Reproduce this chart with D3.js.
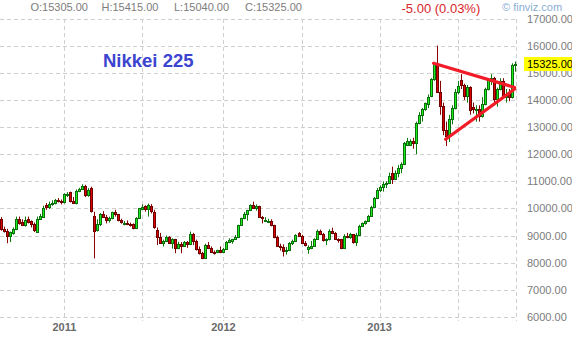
<!DOCTYPE html>
<html><head><meta charset="utf-8">
<script src="https://cdn.jsdelivr.net/npm/d3@7/dist/d3.min.js"></script>
<style>html,body{margin:0;padding:0;background:#fff;}svg{display:block;font-family:"Liberation Sans",Arial,sans-serif;}</style>
</head><body>
<svg id="c" width="572" height="339"></svg>
<script>
// ---- data (weekly Nikkei 225 futures, weeks ending Friday) ----
const firstWeek = "2010-08-13";
const opens = [9620,9250,9170,8990,9110,9239,9626,9500,9404,9620,9520,9440,9150,9625,9700,10120,10039,10178,10212,10310,10290,
10229,10480,10590,10280,10200,10640,10720,10840,10480,10750,9740,9200,9420,9800,9700,9560,9640,9860,9780,9580,9420,9480,9430,9420,9290,9640,9990,10080,9980,10100,
9880,9200,8960,8720,8800,8950,8740,8860,8560,8700,8600,8750,8680,9050,8800,8510,8370,8160,8640,8540,8400,8400,
8460,8390,8500,8766,8800,8860,8950,9380,9650,9780,9930,10130,10010,10080,9690,9560,9500,9540,9380,8950,8610,8590,8440,8460,8720,8800,9080,9000,8720,8520,8560,8600,8890,9160,9070,8840,8870,9160,9110,8870,8860,8530,9000,8930,9050,8760,9040,9370,9450,9530,9740,10050,
10400,10690,10800,10910,10930,11320,11100,11300,11500,11650,12340,12350,12500,12420,13150,13450,13650,13850,14150,14760,15360,14300,13780,12900,12700,13300,13700,14300,14750,14550,14130,14470,13750,13650,13660,13390,13860,14400,14700,14800,14020,14400,14700,14090,14300,14090,15305];
const highs = [9680,9330,9250,9150,9300,9700,9700,9600,9700,9700,9560,9480,9700,9800,10100,10200,10250,10300,10350,10380,10330,
10560,10600,10620,10420,10700,10760,10890,10870,10750,10800,9880,9600,9830,9900,9760,9700,9880,9950,9800,9620,9540,9560,9480,9450,9680,10020,10150,10120,10180,10160,
9950,9300,9100,8850,9000,8980,8900,8880,8770,8760,8800,8800,9150,9100,8850,8600,8400,8700,8760,8600,8450,8480,
8600,8550,8800,8900,8880,9020,9400,9660,9870,9950,10150,10250,10150,10100,9720,9680,9620,9600,9400,9000,8700,8680,8580,8760,8850,9050,9130,9030,8800,8640,8800,8900,9220,9220,9100,8900,9230,9290,9130,8900,8880,9050,9100,9100,9060,9100,9400,9480,9560,9760,10100,10420,
10750,10850,11000,11000,11320,11540,11400,11600,11700,12450,12600,12550,12600,13200,13550,13700,13900,14200,14800,15400,16000,14700,13900,13200,13450,13800,14400,14700,14950,14600,14550,14500,13900,13800,13800,14100,14450,14800,14950,14850,14450,14800,14800,14400,14400,15350,15415];
const lows = [9180,9110,8720,8760,9030,9200,9400,9350,9330,9450,9300,9130,9110,9580,9650,9950,9980,10100,10150,10220,10150,
10180,10420,10220,10180,10150,10600,10680,10420,10430,9850,8160,9150,9350,9650,9450,9480,9600,9700,9520,9440,9380,9380,9330,9230,9270,9620,9960,9880,9700,9820,
9250,8650,8700,8600,8780,8700,8520,8350,8500,8350,8580,8550,8650,8650,8450,8300,8130,8140,8500,8360,8300,8350,
8350,8370,8480,8720,8700,8840,8920,9370,9600,9550,9900,9980,9920,9650,9450,9500,9460,9340,8900,8580,8450,8230,8300,8430,8650,8760,8950,8700,8600,8330,8500,8580,8860,9020,8780,8650,8820,9050,8850,8740,8500,8500,8900,8880,8700,8620,9020,9340,9400,9500,9700,10020,
10380,10600,10620,10750,10900,10900,11050,11150,11300,11600,12300,12300,12200,12000,13100,13200,13600,13700,14100,14700,14250,13450,12700,12300,12450,13100,13650,14200,14400,14000,13900,13450,13500,13200,13200,13350,13800,14350,14550,13850,13750,14350,14050,13900,13950,14050,15040];
const closes = [9253,9179,8991,9114,9239,9626,9471,9404,9589,9500,9426,9202,9625,9724,10022,10039,10178,10212,10303,10279,10229,
10541,10540,10274,10210,10640,10720,10840,10480,10690,9906,9170,9420,9780,9700,9560,9660,9860,9780,9580,9500,9470,9420,9390,9290,9640,10000,10060,9980,10120,9900,
9300,8960,8720,8800,8950,8740,8860,8560,8700,8600,8750,8680,9050,8800,8510,8370,8160,8640,8540,8400,8390,8455,
8390,8500,8766,8840,8860,8950,9380,9650,9780,9930,10130,10010,10080,9690,9640,9570,9540,9380,8950,8610,8590,8440,8460,8720,8800,9010,9000,8720,8670,8570,8600,8890,9160,9070,8840,8870,9160,9110,8870,8860,8530,9000,8930,9050,8760,9040,9370,9450,9530,9740,10050,10400,
10690,10800,10910,10930,11200,11100,11300,11500,11620,12400,12500,12480,12420,13150,13450,13680,13870,14100,14760,15360,14300,13780,12900,12680,13300,13700,14300,14500,14550,14130,14470,13620,13650,13660,13390,13860,14400,14740,14800,14020,14400,14700,14090,14200,14090,15300,15325];
const yTicks = [6000,7000,8000,9000,10000,11000,12000,13000,14000,15000,16000,17000];
const gridDates = ["2011-01-07","2011-07-08","2012-01-13","2012-07-13","2013-01-11","2013-07-12"];
const yearLabels = [{date:"2011-01-07",text:"2011"},{date:"2012-01-13",text:"2012"},{date:"2013-01-11",text:"2013"}];
const triangle = [
  [{date:"2013-05-17",v:15350},{date:"2013-11-22",v:14460}],
  [{date:"2013-06-14",v:12550},{date:"2013-11-22",v:14400}]
];
const header = {o:"O:15305.00",h:"H:15415.00",l:"L:15040.00",c:"C:15325.00",chg:"-5.00 (0.03%)",last:"15325.00",lastV:15325,title:"Nikkei 225"};

// ---- build ----
const parse = d3.utcParse("%Y-%m-%d");
const start = parse(firstWeek);
const data = closes.map((c,i)=>({date:d3.utcDay.offset(start,7*i),o:opens[i],h:highs[i],l:lows[i],c:c}));

const svg = d3.select("#c");
svg.append("rect").attr("width",572).attr("height",339).attr("fill","#fff");

const x = d3.scaleUtc().domain([parse("2010-08-10"),parse("2013-11-27")]).range([0,516.8]);
const y = d3.scaleLinear().domain([6000,17000]).range([317,18.5]);
const plotR = 516.5;

const grid = svg.append("g").attr("stroke","#cfcfcf").attr("stroke-width",1).attr("stroke-dasharray","4,3").attr("shape-rendering","crispEdges");
yTicks.forEach(t=>{
  const yy = Math.round(y(t))+0.5;
  grid.append("line").attr("x1",0).attr("x2",plotR).attr("y1",yy).attr("y2",yy);
});
gridDates.forEach(d=>{
  const xx = Math.round(x(parse(d)))+0.5;
  grid.append("line").attr("x1",xx).attr("x2",xx).attr("y1",Math.round(y(17000))).attr("y2",Math.round(y(6000))+4);
});
grid.append("line").attr("x1",plotR).attr("x2",plotR).attr("y1",Math.round(y(17000))).attr("y2",Math.round(y(6000))+4);

// y labels
svg.append("g").selectAll("text").data(yTicks).join("text")
  .attr("x",527).attr("y",d=>y(d)+4).attr("font-size",11).attr("fill","#7c7c7c")
  .text(d=>d3.format(".2f")(d));
// last price tag
svg.append("rect").attr("x",524).attr("y",Math.round(y(header.lastV))-7).attr("width",48).attr("height",14).attr("fill","#ffff00");
svg.append("text").attr("x",527).attr("y",y(header.lastV)+4).attr("font-size",11).attr("fill","#000").text(header.last);

// year labels
svg.append("g").selectAll("text").data(yearLabels).join("text")
  .attr("x",d=>x(parse(d.date))).attr("y",331).attr("text-anchor","middle")
  .attr("font-size",11).attr("font-weight","bold").attr("fill","#6a6a6a").text(d=>d.text);

// candles
const cg = svg.append("g");
data.forEach(d=>{
  const up = d.c >= d.o;
  const cx = Math.round(x(d.date));
  cg.append("line").attr("x1",cx+0.5).attr("x2",cx+0.5).attr("y1",y(d.h)).attr("y2",y(d.l))
    .attr("stroke", up ? "#0a7a0a" : "#8a0000").attr("stroke-width",1);
  const y0 = Math.round(y(Math.max(d.o,d.c))), y1 = Math.round(y(Math.min(d.o,d.c)));
  cg.append("rect").attr("x",cx-0.5).attr("y",y0+0.5).attr("width",2).attr("height",Math.max(1,y1-y0))
    .attr("fill", up ? "#1aee1a" : "#dd0000").attr("stroke", up ? "#0b6e0b" : "#6e0000").attr("stroke-width",1);
});

// triangle
const line = d3.line().x(p=>x(parse(p.date))).y(p=>y(p.v));
triangle.forEach(seg=>{
  svg.append("path").attr("d",line(seg)).attr("fill","none").attr("stroke","#f21c28").attr("stroke-width",3.2).attr("stroke-linecap","round");
});

// header texts
svg.append("text").attr("x",30.5).attr("y",11).attr("font-size",11).attr("fill","#7c7c7c").text(header.o);
svg.append("text").attr("x",101.5).attr("y",11).attr("font-size",11).attr("fill","#7c7c7c").text(header.h);
svg.append("text").attr("x",174).attr("y",11).attr("font-size",11).attr("fill","#7c7c7c").text(header.l);
svg.append("text").attr("x",245).attr("y",11).attr("font-size",11).attr("fill","#7c7c7c").text(header.c);
svg.append("text").attr("x",401.5).attr("y",13).attr("font-size",13).attr("fill","#d8262a").text(header.chg);
svg.append("text").attr("x",502).attr("y",11).attr("font-size",11).attr("fill","#8aaed6").text("\u00A9 finviz.com");
svg.append("text").attr("x",103).attr("y",67).attr("font-size",18.5).attr("font-weight","bold").attr("fill","#3c44d0").text(header.title);
</script>
</body></html>
